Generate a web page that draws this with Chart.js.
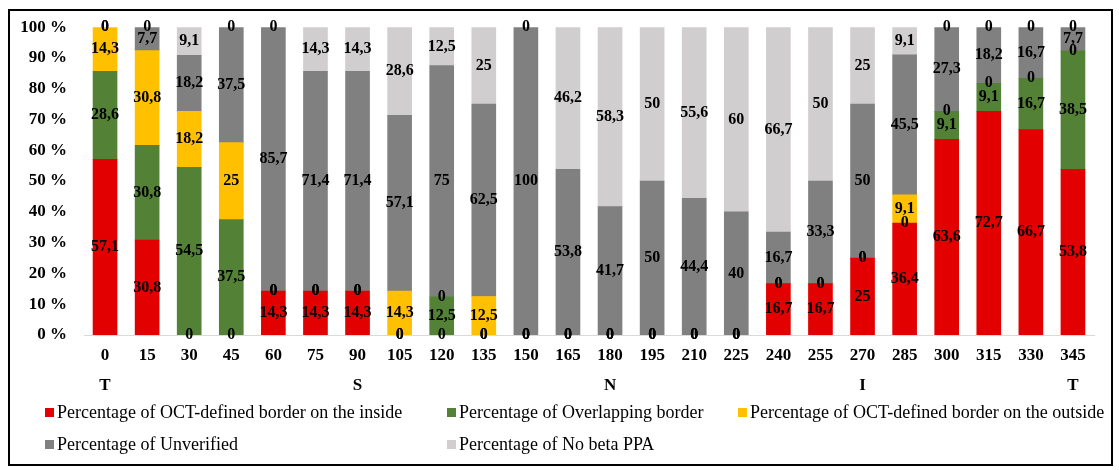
<!DOCTYPE html>
<html>
<head>
<meta charset="utf-8">
<script src="https://cdn.jsdelivr.net/npm/chart.js@4/dist/chart.umd.min.js"></script>
<style>
  body { margin: 0; background: #fff; }
  #wrap { position: relative; width: 1119px; height: 470px; }
  #legend {
    position: absolute; left: 45px; top: 396px;
    display: grid; grid-template-columns: 402px 291px auto; grid-auto-rows: 32px;
    font-family: "Liberation Serif", serif; font-size: 18px; color: #000;
  }
  #legend div { display: flex; align-items: center; white-space: nowrap; }
  #legend span.box { display: inline-block; width: 9px; height: 9px; margin-right: 3px; }
</style>
</head>
<body>
<div id="wrap">
  <canvas id="chart" width="1119" height="470"></canvas>
  <div id="legend"></div>
</div>
<script>
  // angles (degrees) and sector names
  const angles = ['0', '15', '30', '45', '60', '75', '90', '105', '120', '135', '150', '165',
                  '180', '195', '210', '225', '240', '255', '270', '285', '300', '315', '330', '345'];
  const sectors = ['T', '', '', '', '', '', 'S', '', '', '', '', '',
                   'N', '', '', '', '', '', 'I', '', '', '', '', 'T'];

  // series values (%)
  const inside      = [57.1, 30.8, 0, 0, 14.3, 14.3, 14.3, 0, 0, 0, 0, 0, 0, 0, 0, 0, 16.7, 16.7, 25, 36.4, 63.6, 72.7, 66.7, 53.8];
  const overlapping = [28.6, 30.8, 54.5, 37.5, 0, 0, 0, 0, 12.5, 0, 0, 0, 0, 0, 0, 0, 0, 0, 0, 0, 9.1, 9.1, 16.7, 38.5];
  const outside     = [14.3, 30.8, 18.2, 25, 0, 0, 0, 14.3, 0, 12.5, 0, 0, 0, 0, 0, 0, 0, 0, 0, 9.1, 0, 0, 0, 0];
  const unverified  = [0, 7.7, 18.2, 37.5, 85.7, 71.4, 71.4, 57.1, 75, 62.5, 100, 53.8, 41.7, 50, 44.4, 40, 16.7, 33.3, 50, 45.5, 27.3, 18.2, 16.7, 7.7];
  const noBetaPPA   = [0, 0, 9.1, 0, 0, 14.3, 14.3, 28.6, 12.5, 25, 0, 46.2, 58.3, 50, 55.6, 60, 66.7, 50, 25, 9.1, 0, 0, 0, 0];

  const yTicks = [0, 10, 20, 30, 40, 50, 60, 70, 80, 90, 100];

  const labels = angles.map((a, i) => sectors[i] ? [a, sectors[i]] : a);
  const serif = '"Liberation Serif", "Times New Roman", serif';

  // zero-height segments should not leave a sliver of colour
  const fillFor = color => c => (c.raw === 0 ? 'rgba(0,0,0,0)' : color);

  // value labels in the middle of each segment
  const valueLabels = {
    id: 'valueLabels',
    afterDatasetsDraw(chart) {
      const ctx = chart.ctx;
      ctx.save();
      ctx.font = 'bold 16px ' + serif;
      ctx.fillStyle = '#000';
      ctx.textAlign = 'center';
      ctx.textBaseline = 'middle';
      chart.data.datasets.forEach((ds, di) => {
        chart.getDatasetMeta(di).data.forEach((bar, i) => {
          const v = ds.data[i];
          if (v === null) return;
          ctx.fillText(String(v).replace('.', ','), bar.x, (bar.y + bar.base) / 2);
        });
      });
      ctx.restore();
    }
  };

  // outer frame
  const frame = {
    id: 'frame',
    beforeDraw(chart) {
      const ctx = chart.ctx;
      ctx.save();
      ctx.strokeStyle = '#000';
      ctx.lineWidth = 2;
      ctx.strokeRect(9, 10, 1103, 455);
      ctx.restore();
    }
  };

  const colors = ['#E30000', '#538135', '#FFC000', '#808080', '#D0CECE'];

  const ctx = document.getElementById('chart').getContext('2d');
  const chart = new Chart(ctx, {
    type: 'bar',
    data: {
      labels: labels,
      datasets: [
        { label: 'Percentage of OCT-defined border on the inside', data: inside, backgroundColor: fillFor(colors[0]) },
        { label: 'Percentage of Overlapping border', data: overlapping, backgroundColor: fillFor(colors[1]) },
        { label: 'Percentage of OCT-defined border on the outside', data: outside, backgroundColor: fillFor(colors[2]) },
        { label: 'Percentage of Unverified', data: unverified, backgroundColor: fillFor(colors[3]) },
        { label: 'Percentage of No beta PPA', data: noBetaPPA, backgroundColor: fillFor(colors[4]) }
      ]
    },
    options: {
      responsive: false,
      animation: false,
      layout: { padding: { top: 27, right: 25, left: 0, bottom: 0 } },
      datasets: { bar: { barThickness: 24 } },
      scales: {
        x: {
          stacked: true,
          grid: { display: false, drawTicks: false },
          border: { color: '#D9D9D9', width: 1 },
          ticks: {
            color: '#000', padding: 6, maxRotation: 0, autoSkip: false,
            font: { family: serif, size: 17, weight: 'bold', lineHeight: 1.75 }
          },
          afterFit(scale) { scale.height = 135; }
        },
        y: {
          stacked: true,
          min: 0, max: 100,
          grid: { display: false, drawTicks: false },
          border: { display: false },
          afterBuildTicks(scale) { scale.ticks = yTicks.map(v => ({ value: v })); },
          ticks: {
            color: '#000', padding: 17,
            font: { family: serif, size: 17, weight: 'bold' },
            callback: v => v + ' %'
          },
          afterFit(scale) { scale.width = 84; }
        }
      },
      plugins: {
        legend: { display: false },
        tooltip: { enabled: false }
      }
    },
    plugins: [frame, valueLabels]
  });

  // legend laid out in columns like the original
  const legend = document.getElementById('legend');
  chart.data.datasets.forEach((ds, i) => {
    const item = document.createElement('div');
    item.innerHTML = '<span class="box" style="background:' + colors[i] + '"></span>' + ds.label;
    if (i === 3) item.style.gridColumn = '1';
    legend.appendChild(item);
  });
</script>
</body>
</html>
